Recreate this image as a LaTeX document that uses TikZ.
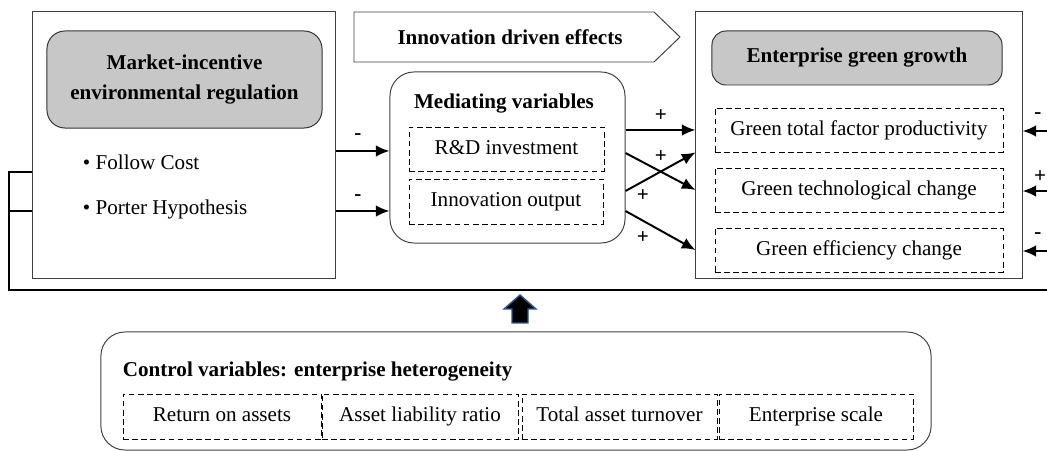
\documentclass[tikz,border=0pt]{standalone}
\usepackage{fontspec}
\setmainfont{Liberation Serif}
\usetikzlibrary{arrows.meta}
\definecolor{edgeblue}{RGB}{46,88,140}

\begin{document}
\begin{tikzpicture}[x=0.025cm, y=-0.025cm, >={Latex[length=3.4mm, width=2.9mm]},
  font=\fontsize{15}{18}\selectfont,
  panel/.style={draw=black!75, line width=0.7pt},
  headbox/.style={draw=black!80, fill=black!22, line width=0.7pt, align=center,
    font=\fontsize{15}{21}\selectfont\bfseries},
  varbox/.style={draw, dash pattern=on 4pt off 2.5pt, line width=0.6pt,
    text height=0.82em, text depth=0.08em},
  flow/.style={->, line width=1.4pt},
  sign/.style={inner sep=0pt, font=\fontsize{15}{18}\selectfont\bfseries}]
  \useasboundingbox (0,0) rectangle (1047,451);

  % regulation panel
  \node[panel, minimum width=7.55cm, minimum height=6.65cm] (reg) at (184,145) {};
  \node[headbox, rounded corners=0.45cm, minimum width=6.875cm, minimum height=2.425cm]
    (reghead) at (184.5,79.5) {Market-incentive\\environmental regulation};
  \node[anchor=west] (cost) at (78,162) {• Follow Cost};
  \node[anchor=west] (porter) at (78,209) {• Porter Hypothesis};

  % innovation banner
  \draw[panel] (354,12) -- (654,12) -- (680,37) -- (654,62) -- (354,62) -- cycle;
  \node[font=\fontsize{15}{18}\selectfont\bfseries] (innov) at (510,37) {Innovation driven effects};

  % mediating variables
  \node[panel, rounded corners=0.6cm, minimum width=5.875cm, minimum height=4.275cm] (med) at (507.5,157.5) {};
  \node[font=\fontsize{15}{18}\selectfont\bfseries] (medtitle) at (504,104) {Mediating variables};
  \node[varbox, minimum width=4.875cm, minimum height=1.1cm] (rd) at (506.5,149) {R\&D investment};
  \node[varbox, minimum width=4.85cm, minimum height=1.125cm] (io) at (506,201.5) {Innovation output};

  % green growth panel
  \node[panel, minimum width=8.15cm, minimum height=6.65cm] (grow) at (859,145) {};
  \node[headbox, rounded corners=0.35cm, minimum width=7.25cm, minimum height=1.35cm]
    (growhead) at (857,58) {Enterprise green growth};
  \node[varbox, minimum width=7.2cm, minimum height=1.1cm] (tfp) at (859,130) {Green total factor productivity};
  \node[varbox, minimum width=7.2cm, minimum height=1.1cm] (tech) at (859,190) {Green technological change};
  \node[varbox, minimum width=7.2cm, minimum height=1.1cm] (eff) at (859,250) {Green efficiency change};

  % regulation -> mediators
  \draw[flow] (reg.east |- 0,151) -- (med.west |- 0,151);
  \draw[flow] (reg.east |- 0,211) -- (med.west |- 0,211);
  \node[sign] (m1) at (358,137) {-};
  \node[sign] (m2) at (358,198) {-};

  % mediators -> green growth
  \draw[flow] (med.east |- tfp) -- (grow.west |- tfp);
  \draw[flow] (med.east |- 0,153) -- (grow.west |- tech);
  \draw[flow] (med.east |- 0,191) -- (grow.west |- tfp.south);
  \draw[flow] (med.east |- 0,211) -- (grow.west |- eff);
  \node[sign] (p1) at (661,116) {+};
  \node[sign] (p2) at (661,157) {+};
  \node[sign] (p3) at (643,196) {+};
  \node[sign] (p4) at (643,238) {+};

  % feedback from the right
  \coordinate (r1) at (1052,131);
  \coordinate (r2) at (1052,191);
  \coordinate (r3) at (1052,251);
  \draw[flow] (r1) -- (grow.east |- r1);
  \draw[flow] (r2) -- (grow.east |- r2);
  \draw[flow] (r3) -- (grow.east |- r3);
  \node[sign] (q1) at (1038,116) {-};
  \node[sign] (q2) at (1040,177) {+};
  \node[sign] (q3) at (1038,236) {-};

  % control bus
  \coordinate (busR) at (1052,290);
  \coordinate (busL) at (9,290);
  \draw[line width=1.6pt] (busR) -- (busL) -- (9,172) -- (reg.west |- 0,172);
  \draw[line width=1.6pt] (9,211) -- (reg.west |- 0,211);

  % block arrow
  \draw[edgeblue, fill=black, line width=1pt, line join=miter]
    (520,295) -- (536,309) -- (528,309) -- (528,323) -- (512,323) -- (512,309) -- (504,309) -- cycle;

  % control variables
  \node[panel, rounded corners=0.6cm, minimum width=20.75cm, minimum height=2.95cm] (ctrl) at (516,391) {};
  \node[anchor=west, font=\fontsize{15}{18}\selectfont\bfseries] (ctrltitle) at (118,372)
    {Control variables: enterprise heterogeneity};
  \node[varbox, minimum width=4.95cm, minimum height=1.125cm] (roa) at (222,416.5) {Return on assets};
  \node[varbox, minimum width=4.9cm, minimum height=1.125cm] (alr) at (420,416.5) {Asset liability ratio};
  \node[varbox, minimum width=4.875cm, minimum height=1.125cm] (tat) at (619.5,416.5) {Total asset turnover};
  \node[varbox, minimum width=4.85cm, minimum height=1.125cm] (scale) at (816,416.5) {Enterprise scale};
\end{tikzpicture}
\end{document}
